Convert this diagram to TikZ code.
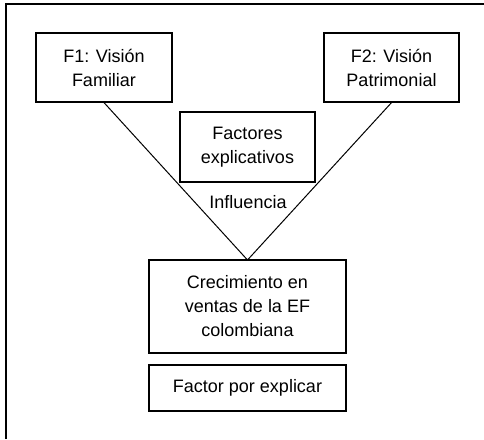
\documentclass[tikz,border=0pt]{standalone}
\usepackage{fontspec}
\setmainfont{Liberation Sans}
\begin{document}
\begin{tikzpicture}[x=1pt,y=-1pt,
  box/.style={draw=black,line width=1.2pt,align=center,font=\fontsize{18}{24}\selectfont,inner sep=0pt},
  link/.style={draw=black,line width=1pt}]
\useasboundingbox (0,0) rectangle (484,439);
\draw[line width=2.6pt] (6,439) -- (6,4) -- (484,4);
\node[box,minimum width=136pt,minimum height=69pt] (f1) at (104,67.5) {F1: Visión\\Familiar};
\node[box,minimum width=135pt,minimum height=69pt] (f2) at (391.5,67.5) {F2: Visión\\Patrimonial};
\node[box,minimum width=135pt,minimum height=70pt] (fe) at (247.5,147) {Factores\\explicativos};
\node[align=center,font=\fontsize{18}{24}\selectfont,inner sep=0pt] (inf) at (248,202.5) {Influencia};
\node[box,minimum width=197pt,minimum height=93pt] (cr) at (247.5,306.5) {Crecimiento en\\ventas de la EF\\colombiana};
\node[box,minimum width=197pt,minimum height=46pt] (fx) at (247.5,388) {Factor por explicar};
\coordinate (apex) at (247.5,260);
\draw[link] (f1.south) -- (apex);
\draw[link] (f2.south) -- (apex);
\end{tikzpicture}
\end{document}
